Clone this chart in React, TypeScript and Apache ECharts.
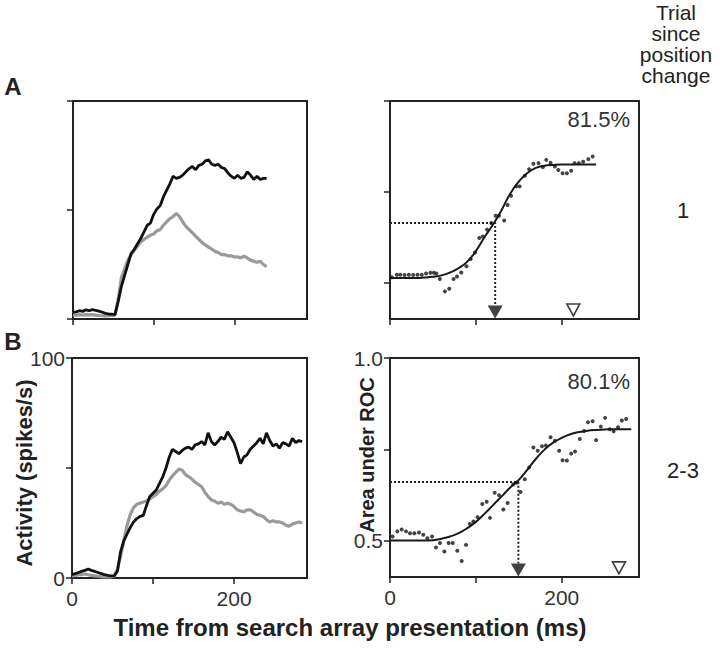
import React, { useEffect, useRef } from 'react';
import * as echarts from 'echarts';

// ---------- data ----------
const traceTime = [0, 4, 8, 12, 16, 20, 24, 28, 32, 36, 40, 44, 48, 52, 56, 60, 64, 68, 72, 76, 80, 84, 88, 92, 96, 100, 104, 108, 112, 116, 120, 124, 128, 132, 136, 140, 144, 148, 152, 156, 160, 164, 168, 172, 176, 180, 184, 188, 192, 196, 200, 204, 208, 212, 216, 220, 224, 228, 232, 236, 240, 244, 248, 252, 256, 260, 264, 268, 272, 276, 280, 284];

const aBlack = [3, 3.3, 3.8, 3.5, 4.2, 3.8, 4.3, 4.0, 3.6, 3.2, 2.6, 2.3, 2.2, 2.0, 8, 15, 20, 25, 30, 32, 34.5, 37, 40, 43, 44, 48, 50.5, 52, 56, 59, 62, 65.5, 64.5, 65, 66, 67.5, 69, 70, 68.5, 70.5, 71, 72.5, 73, 71, 70.5, 71, 69.5, 69, 67, 65.5, 64.5, 66, 64.5, 65, 67.5, 66, 64, 65.5, 64, 64.5, 64.5];
const aGray = [1.8, 1.8, 2, 1.8, 2, 1.9, 2, 1.8, 1.6, 1.5, 1.4, 1.5, 1.6, 1.8, 9, 19, 23, 27, 29.5, 31.5, 33.5, 35.5, 36.5, 37.5, 38.5, 39, 40.5, 41, 43, 44.5, 46, 47, 48.5, 47, 44.5, 42.5, 41, 39.5, 38, 36.5, 35, 34, 33, 32, 31, 30.5, 29.5, 29.5, 29, 29, 28.5, 28.5, 28, 28.8, 28, 27, 26.5, 26, 26.5, 25, 24];

const bBlack = [1.5, 2, 2.5, 3, 3.5, 4, 3.5, 3, 2.5, 2, 1.5, 1.2, 1, 1, 3, 12, 17, 20, 23, 25.5, 27, 28, 28.5, 33, 37, 38.5, 40, 43, 46, 50, 55, 58.5, 57.5, 56.5, 58, 59, 59.5, 58.5, 60.5, 61, 62, 60.5, 66, 62, 60.5, 62, 64, 63, 66.5, 64, 61.5, 57, 52, 55, 56, 58.5, 60, 61.5, 63.5, 61, 66, 62.5, 60, 61, 59, 61.5, 61, 60, 63.5, 61.5, 62.5, 62];
const bGray = [1, 1.2, 1.5, 1.5, 1.8, 1.5, 1.2, 1, 0.8, 0.6, 0.5, 0.5, 0.5, 0.8, 4, 10, 17, 24, 29, 32, 33.5, 34, 34.5, 35, 36, 37, 38, 39.5, 40.5, 42, 44.5, 46.5, 48, 49.5, 49, 47, 46, 45, 43.5, 42.5, 41.5, 39, 37, 35.5, 35, 34, 34.5, 33.5, 34, 33.5, 32.5, 31, 30.5, 30, 31, 31, 30, 29, 28.5, 28, 26.5, 25.5, 26, 25.5, 25.5, 25, 24, 23.5, 24.5, 25, 25.5, 25];

const aRocTime = [2, 8, 12, 17, 22, 27, 32, 37, 42, 47, 51, 54, 58, 64, 69, 74, 78, 83, 89, 94, 99, 104, 108, 113, 118, 123, 127, 133, 137, 141, 147, 151, 157, 162, 167, 173, 178, 182, 187, 192, 196, 201, 206, 211, 215, 220, 225, 231, 236];
const aRocVal = [0.515, 0.522, 0.522, 0.521, 0.522, 0.521, 0.522, 0.522, 0.525, 0.527, 0.527, 0.525, 0.51, 0.476, 0.483, 0.51, 0.517, 0.528, 0.545, 0.565, 0.583, 0.623, 0.627, 0.646, 0.664, 0.684, 0.684, 0.671, 0.714, 0.739, 0.765, 0.765, 0.794, 0.812, 0.827, 0.829, 0.818, 0.838, 0.83, 0.82, 0.81, 0.801, 0.801, 0.808, 0.829, 0.829, 0.833, 0.84, 0.847];
const aFitTime = [0, 10, 20, 30, 40, 50, 60, 70, 80, 90, 100, 110, 120, 130, 140, 150, 160, 170, 180, 190, 200, 210, 220, 230, 240];
const aFitVal = [0.513, 0.513, 0.513, 0.513, 0.514, 0.516, 0.52, 0.528, 0.54, 0.558, 0.587, 0.625, 0.66, 0.7, 0.745, 0.778, 0.802, 0.816, 0.822, 0.824, 0.825, 0.825, 0.825, 0.825, 0.825];

const bRocTime = [3, 8.5, 13.6, 18.6, 23.3, 28.3, 33.8, 38.8, 43.5, 49, 53.6, 58.2, 63.3, 68.3, 73, 78.4, 83.5, 88.5, 93, 97, 102, 107.5, 112.6, 116.5, 122, 127, 132, 137, 143.5, 147.5, 152, 157, 162, 167, 172, 177, 181.5, 187, 192, 197, 201, 206, 211, 215.5, 221, 226, 230.6, 236, 240, 245.5, 250.5, 256, 260.5, 265.6, 270, 275];
const bRocVal = [0.511, 0.525, 0.53, 0.525, 0.52, 0.52, 0.522, 0.516, 0.506, 0.511, 0.481, 0.493, 0.47, 0.493, 0.493, 0.472, 0.444, 0.488, 0.545, 0.552, 0.564, 0.6, 0.606, 0.562, 0.631, 0.624, 0.585, 0.603, 0.654, 0.658, 0.633, 0.668, 0.7, 0.755, 0.746, 0.758, 0.76, 0.783, 0.773, 0.746, 0.72, 0.719, 0.738, 0.744, 0.778, 0.8, 0.824, 0.827, 0.775, 0.812, 0.836, 0.805, 0.799, 0.81, 0.829, 0.833];
const bFitTime = [0, 10, 20, 30, 40, 50, 60, 70, 80, 90, 100, 110, 120, 130, 140, 150, 160, 170, 180, 190, 200, 210, 220, 230, 240, 250, 260, 270, 281];
const bFitVal = [0.5, 0.5, 0.5, 0.5, 0.5, 0.501, 0.505, 0.511, 0.52, 0.534, 0.551, 0.573, 0.597, 0.621, 0.645, 0.666, 0.694, 0.724, 0.749, 0.768, 0.781, 0.791, 0.797, 0.801, 0.803, 0.804, 0.805, 0.805, 0.805];

// threshold crossing [time, auc] and the second (open) marker time
const aThreshold = [122.5, 0.664];
const aOpenTime = 213.5;
const bThreshold = [149.5, 0.66];
const bOpenTime = 266.7;

const xTicks = [0, 100, 200];
const xLabels = [0, 200];
const actTicks = [0, 50, 100];
const actLabels = [0, 100];
const rocTicks = [0.5, 0.75, 1.0];
const rocLabels = [0.5, 1.0];
const percentA = '81.5%';
const percentB = '80.1%';

// ---------- helpers ----------
const zip = (xs: number[], ys: number[]) => xs.map((x, i) => [x, ys[i]]);
const FONT = '"Liberation Sans", Arial, Helvetica, sans-serif';
const AX = '#222';

function xAxisDef(idx: number, showLabels: boolean) {
  return {
    type: 'value', gridIndex: idx, min: 0, max: 290,
    axisLine: { show: true, onZero: false, lineStyle: { color: AX, width: 2 } },
    axisTick: { show: true, length: 6, customValues: xTicks, lineStyle: { color: AX, width: 1.5 } },
    axisLabel: { show: showLabels, customValues: xLabels, fontSize: 21, color: '#333', margin: 10, fontFamily: FONT },
    splitLine: { show: false },
  };
}

function yAxisDef(idx: number, roc: boolean, showLabels: boolean) {
  return {
    type: 'value', gridIndex: idx,
    min: roc ? 0.4 : 0, max: roc ? 1.0 : 100,
    axisLine: { show: true, onZero: false, lineStyle: { color: AX, width: 2 } },
    axisTick: { show: true, length: 6, customValues: roc ? rocTicks : actTicks, lineStyle: { color: AX, width: 1.5 } },
    axisLabel: {
      show: showLabels, customValues: roc ? rocLabels : actLabels, fontSize: 21, color: '#333', margin: 7, fontFamily: FONT,
      formatter: (v: number) => (roc ? v.toFixed(1) : String(v)),
    },
    splitLine: { show: false },
  };
}

function traceSeries(idx: number, black: number[], gray: number[]) {
  return [
    { type: 'line', xAxisIndex: idx, yAxisIndex: idx, data: zip(traceTime.slice(0, gray.length), gray), symbol: 'none', lineStyle: { color: '#9a9a9a', width: 3.2 }, z: 2 },
    { type: 'line', xAxisIndex: idx, yAxisIndex: idx, data: zip(traceTime.slice(0, black.length), black), symbol: 'none', lineStyle: { color: '#111', width: 2.8 }, z: 3 },
  ];
}

function rocSeries(idx: number, rt: number[], rv: number[], ft: number[], fv: number[], thr: number[], openT: number) {
  const triY = 0.419;
  return [
    { type: 'line', xAxisIndex: idx, yAxisIndex: idx, data: zip(ft, fv), smooth: true, symbol: 'none', lineStyle: { color: '#1a1a1a', width: 2 }, z: 3 },
    { type: 'scatter', xAxisIndex: idx, yAxisIndex: idx, data: zip(rt, rv), symbol: 'circle', symbolSize: 4, itemStyle: { color: '#151515' }, z: 4 },
    { type: 'line', xAxisIndex: idx, yAxisIndex: idx, data: [[0, thr[1]], [thr[0], thr[1]], [thr[0], triY + 0.018]], symbol: 'none', lineStyle: { color: '#222', width: 2, type: [2, 2] }, z: 2 },
    { type: 'scatter', xAxisIndex: idx, yAxisIndex: idx, data: [[thr[0], triY]], symbol: 'triangle', symbolRotate: 180, symbolSize: [15, 13], itemStyle: { color: '#111' }, z: 5 },
    { type: 'scatter', xAxisIndex: idx, yAxisIndex: idx, data: [[openT, triY + 0.006]], symbol: 'triangle', symbolRotate: 180, symbolSize: [13, 12], itemStyle: { color: '#fff', borderColor: '#111', borderWidth: 1.6 }, z: 5 },
  ];
}

function txt(text: string, x: number, y: number, size: number, opts: any = {}) {
  const align = opts.align || 'center';
  return {
    type: 'text', x, y, rotation: opts.rotation || 0, z: 10,
    style: {
      text, fontSize: size, fontWeight: opts.bold ? 'bold' : 'normal', fontFamily: FONT,
      fill: opts.color || '#222', textAlign: align, align, textVerticalAlign: opts.valign || 'middle', verticalAlign: opts.valign || 'middle',
      lineHeight: opts.lineHeight,
    },
  };
}

export default function App() {
  const ref = useRef<HTMLDivElement>(null);
  useEffect(() => {
    if (!ref.current) return;
    const chart = echarts.init(ref.current, undefined, { renderer: 'svg' });
    const gridBase = { show: true, borderColor: AX, borderWidth: 2, backgroundColor: 'transparent', containLabel: false, outerBoundsMode: 'none' };
    const option: any = {
      animation: false,
      backgroundColor: '#fff',
      textStyle: { fontFamily: FONT },
      grid: [
        { ...gridBase, left: 73, top: 101, width: 234, height: 218 },
        { ...gridBase, left: 390, top: 101, width: 249, height: 218 },
        { ...gridBase, left: 72, top: 358, width: 235, height: 220 },
        { ...gridBase, left: 390, top: 358, width: 249, height: 219 },
      ],
      xAxis: [xAxisDef(0, false), xAxisDef(1, false), xAxisDef(2, true), xAxisDef(3, true)],
      yAxis: [yAxisDef(0, false, false), yAxisDef(1, true, false), yAxisDef(2, false, true), yAxisDef(3, true, true)],
      series: [
        ...traceSeries(0, aBlack, aGray),
        ...rocSeries(1, aRocTime, aRocVal, aFitTime, aFitVal, aThreshold, aOpenTime),
        ...traceSeries(2, bBlack, bGray),
        ...rocSeries(3, bRocTime, bRocVal, bFitTime, bFitVal, bThreshold, bOpenTime),
      ],
      graphic: [
        txt('A', 13, 86, 24, { bold: true }),
        txt('B', 13, 341, 24, { bold: true }),
        txt('Trial\nsince\nposition\nchange', 676, 44, 21, { lineHeight: 21 }),
        txt('1', 683, 210, 22),
        txt('2-3', 683, 470, 22),
        txt(percentA, 630, 119, 22, { align: 'right', color: '#333' }),
        txt(percentB, 630, 381, 22, { align: 'right', color: '#333' }),
        txt('Activity (spikes/s)', 24, 473, 22, { bold: true, rotation: Math.PI / 2 }),
        txt('Area under ROC', 367, 455, 20, { bold: true, rotation: Math.PI / 2 }),
        txt('Time from search array presentation (ms)', 350, 627, 24, { bold: true }),
      ],
    };
    chart.setOption(option);
    return () => chart.dispose();
  }, []);
  return <div ref={ref} style={{ position: 'fixed', left: 0, top: 0, width: 720, height: 648, background: '#fff' }} />;
}
